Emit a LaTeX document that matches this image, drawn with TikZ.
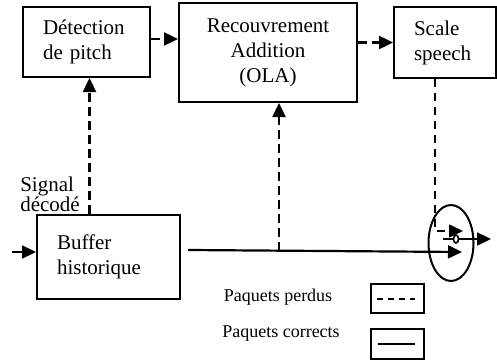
\documentclass[tikz,border=0pt]{standalone}
\usepackage{fontspec}
\setmainfont{Liberation Serif}
\usetikzlibrary{arrows.meta,shapes.geometric}

\begin{document}
\begin{tikzpicture}[x=1pt,y=-1pt,
    bloc/.style={draw,line width=2pt,rectangle,inner xsep=20pt,inner ysep=0pt,
      font=\fontsize{21}{25}\selectfont},
    perdu/.style={line width=2.4pt,dash pattern=on 9pt off 5pt},
    correct/.style={line width=2.2pt},
    tip/.style={-{Triangle[length=14pt,width=13pt]}},
    legende/.style={font=\fontsize{18}{21}\selectfont,inner sep=0pt}]
  \useasboundingbox (0,0) rectangle (497,361);

  % Blocs de traitement
  \node[bloc,text width=87pt,minimum height=70pt,align=left] (pitch) at (86.5,42) {Détection\\de pitch};
  \node[bloc,text width=138pt,minimum height=99pt,align=center] (ola) at (268,52.5) {Recouvrement\\Addition\\(OLA)};
  \node[bloc,text width=62pt,minimum height=71pt,align=left] (scale) at (445,42.5) {Scale\\speech};
  \node[bloc,text width=103pt,minimum height=84pt,align=left] (buffer) at (108.5,257) {Buffer\\historique};
  \node[align=left,inner sep=0pt,font=\fontsize{21}{20}\selectfont] (signal) at (50,194) {Signal\\décodé};

  % Commutateur
  \node[draw,ellipse,line width=2pt,minimum width=45pt,minimum height=76pt,inner sep=0pt] (switch) at (451,243) {};
  \node[draw,ellipse,fill=white,line width=1.6pt,minimum width=5pt,minimum height=8pt,inner sep=0pt] (contact) at (456,239) {};

  \coordinate (in) at (12,252);
  \coordinate (out) at (188,250);
  \coordinate (end) at (462,252);
  \coordinate (tap) at (279,251);
  \coordinate (drop) at (435,231);
  \coordinate (sel) at (463,231);
  \coordinate (pivot) at (443,239);
  \coordinate (exit) at (491,239);

  % Paquets corrects
  \draw[correct,tip] (in) -- (in -| buffer.west);
  \draw[correct,tip] (out) -- (end);
  \draw[correct] (pivot) -- (contact.west);
  \draw[correct,tip] (contact.east) -- (exit);

  % Paquets perdus
  \draw[perdu,tip] ([xshift=3pt]buffer.north -| pitch.south) -- ([xshift=3pt]pitch.south);
  \draw[perdu,tip] ([yshift=3pt]pitch.east) -- ([yshift=3pt]pitch.east -| ola.west);
  \draw[perdu,tip] (scale.west -| ola.east) -- (scale.west);
  \draw[perdu,tip] (tap) -- (tap |- ola.south);
  \draw[line width=1.6pt,dash pattern=on 8pt off 6pt,tip] (drop |- scale.south) -- (drop) -- (sel);

  % Legende
  \node[legende] (perdus) at (278,297) {Paquets perdus};
  \node[legende] (corrects) at (281,334) {Paquets corrects};
  \node[draw,line width=1.2pt,minimum width=53pt,minimum height=29pt,inner sep=0pt] (keyA) at (397.5,298.5) {};
  \node[draw,line width=1.2pt,minimum width=53pt,minimum height=30pt,inner sep=0pt] (keyB) at (397.5,344) {};
  \draw[line width=2pt,dash pattern=on 6pt off 5pt] ([xshift=7pt]keyA.west) -- ([xshift=-10pt]keyA.east);
  \draw[line width=2pt] ([xshift=8pt]keyB.west) -- ([xshift=-10pt]keyB.east);
\end{tikzpicture}
\end{document}
